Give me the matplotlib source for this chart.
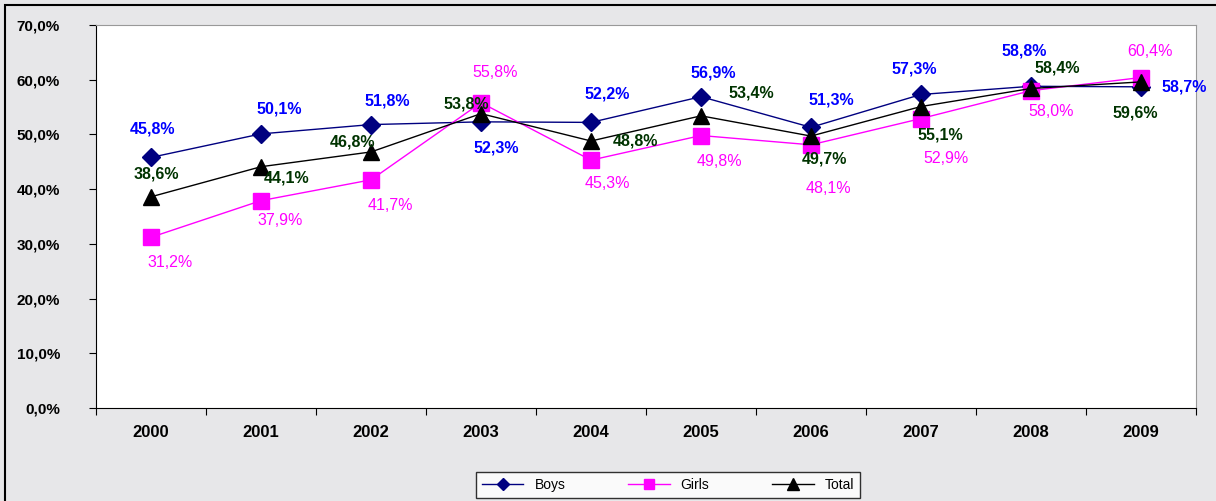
import matplotlib.pyplot as plt
from matplotlib.patches import Rectangle

years = ["2000", "2001", "2002", "2003", "2004", "2005", "2006", "2007", "2008", "2009"]
boys = [45.8, 50.1, 51.8, 52.3, 52.2, 56.9, 51.3, 57.3, 58.8, 58.7]
girls = [31.2, 37.9, 41.7, 55.8, 45.3, 49.8, 48.1, 52.9, 58.0, 60.4]
total = [38.6, 44.1, 46.8, 53.8, 48.8, 53.4, 49.7, 55.1, 58.4, 59.6]
y_ticks = [0, 10, 20, 30, 40, 50, 60, 70]

# label offsets in pixels (dx, dy), hand placed like the original
boys_off = [(2, 28), (18, 25), (16, 24), (15, -26), (16, 28), (12, 24), (20, 27), (-7, 25), (-7, 35), (43, 0)]
girls_off = [(19, -25), (19, -20), (19, -26), (14, 30), (16, -23), (18, -26), (17, -44), (25, -40), (20, -21), (9, 26)]
total_off = [(5, 23), (26, -11), (-18, 10), (-15, 10), (44, 0), (50, 23), (13, -23), (19, -28), (26, 20), (-6, -31)]

plt.rcParams['font.family'] = ['Liberation Sans', 'DejaVu Sans']

fig = plt.figure(figsize=(12.16, 5.01), dpi=100)
fig.patch.set_facecolor('#e7e7e9')
# outer chart frame, only top and left edges fall inside the picture
fig.patches.append(Rectangle((5 / 1216, -0.05), 1.1, 1 - 5 / 501 + 0.05, transform=fig.transFigure,
                             fill=False, edgecolor='black', linewidth=1.5))

ax = fig.add_axes([96 / 1216, 1 - 408 / 501, 1100 / 1216, 383 / 501])
ax.set_facecolor('white')

x = list(range(len(years)))
ax.plot(x, boys, color='#000080', lw=1, marker='D', ms=9, label='Boys', zorder=3)
ax.plot(x, girls, color='#ff00ff', lw=1, marker='s', ms=11, label='Girls', zorder=3)
ax.plot(x, total, color='black', lw=1, marker='^', ms=12, label='Total', zorder=4)

for i in x:
    ax.annotate(f"{boys[i]:.1f}%".replace('.', ','), (i, boys[i]), xytext=boys_off[i],
                textcoords='offset pixels', ha='center', va='center', fontsize=11.5,
                fontweight='bold', color='#0000ff')
    ax.annotate(f"{girls[i]:.1f}%".replace('.', ','), (i, girls[i]), xytext=girls_off[i],
                textcoords='offset pixels', ha='center', va='center', fontsize=11.5,
                color='#ff00ff')
    ax.annotate(f"{total[i]:.1f}%".replace('.', ','), (i, total[i]), xytext=total_off[i],
                textcoords='offset pixels', ha='center', va='center', fontsize=11.5,
                fontweight='bold', color='#003300', zorder=5)

ax.set_xlim(-0.5, len(years) - 0.5)
ax.set_ylim(0, 70)
ax.set_yticks(y_ticks)
ax.set_yticklabels([f"{v:.1f}%".replace('.', ',') for v in y_ticks], fontsize=11, fontweight='bold')
ax.tick_params(axis='y', direction='out', length=5, pad=21)

ax.set_xticks([i - 0.5 for i in range(len(years) + 1)])
ax.set_xticklabels([])
ax.set_xticks(x, minor=True)
ax.set_xticklabels(years, minor=True, fontsize=12, fontweight='bold')
ax.tick_params(axis='x', which='major', direction='out', length=5)
ax.tick_params(axis='x', which='minor', length=0, pad=12)

for s in ['top', 'right']:
    ax.spines[s].set_color('#999999')
for s in ['left', 'bottom']:
    ax.spines[s].set_color('black')

leg = fig.legend(loc='center', bbox_to_anchor=(668 / 1216, 1 - 485 / 501), ncol=3, fontsize=10,
                 frameon=True, fancybox=False, edgecolor='black', handlelength=3.0,
                 columnspacing=4.5, borderpad=0.4, markerscale=0.7)
leg.get_frame().set_facecolor('white')
leg.get_frame().set_linewidth(1)

fig.savefig('out.png', dpi=100, facecolor=fig.get_facecolor())
